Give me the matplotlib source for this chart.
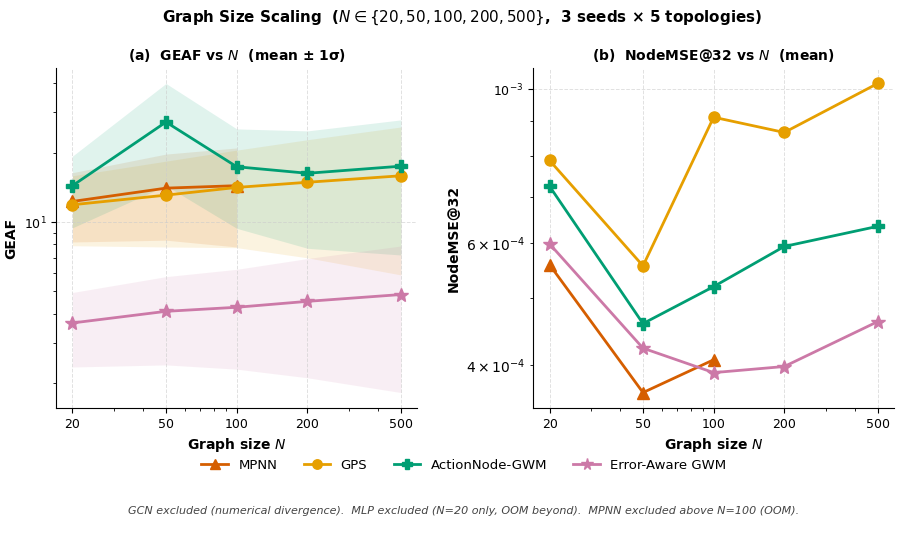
import matplotlib
matplotlib.use("Agg")
import numpy as np
import matplotlib.pyplot as plt

# Graph sizes
sizes = [20, 50, 100, 200, 500]
sizes_mpnn = [20, 50, 100]

# (a) GEAF mean / std
geaf_mpnn = [12.3, 14.05, 14.4]
geaf_mpnn_std = [4.1, 5.7, 6.6]
geaf_gps = [11.9, 13.1, 14.15, 14.9, 15.9]
geaf_gps_std = [4.0, 5.3, 6.4, 7.9, 10.0]
geaf_an = [14.4, 27.2, 17.4, 16.3, 17.5]
geaf_an_std = [4.95, 12.8, 8.0, 8.6, 10.3]
geaf_ea = [3.65, 4.10, 4.27, 4.53, 4.85]
geaf_ea_std = [1.3, 1.7, 1.97, 2.42, 3.03]

# (b) NodeMSE@32 mean
mse_mpnn = [5.58e-4, 3.65e-4, 4.07e-4]
mse_gps = [7.89e-4, 5.56e-4, 9.11e-4, 8.66e-4, 1.019e-3]
mse_an = [7.24e-4, 4.59e-4, 5.19e-4, 5.93e-4, 6.34e-4]
mse_ea = [5.98e-4, 4.23e-4, 3.90e-4, 3.98e-4, 4.62e-4]

c_mpnn = "#D55E00"
c_gps = "#E69F00"
c_an = "#009E73"
c_ea = "#CC79A7"

fig = plt.figure(figsize=(9.01, 5.54), dpi=100)
ax1 = fig.add_axes([0.0622, 0.2635, 0.4011, 0.6137])
ax2 = fig.add_axes([0.5918, 0.2635, 0.4005, 0.6137])

series_a = [
    ("MPNN", sizes_mpnn, geaf_mpnn, geaf_mpnn_std, c_mpnn, "^"),
    ("GPS", sizes, geaf_gps, geaf_gps_std, c_gps, "o"),
    ("ActionNode-GWM", sizes, geaf_an, geaf_an_std, c_an, "P"),
    ("Error-Aware GWM", sizes, geaf_ea, geaf_ea_std, c_ea, "*"),
]
for name, x, m, s, c, mk in series_a:
    m = np.array(m)
    s = np.array(s)
    ax1.fill_between(x, m - s, m + s, color=c, alpha=0.12, linewidth=0)
    ms = 10 if mk == "*" else 8
    ax1.plot(x, m, color=c, marker=mk, markersize=ms, linewidth=2, label=name)

series_b = [
    ("MPNN", sizes_mpnn, mse_mpnn, c_mpnn, "^"),
    ("GPS", sizes, mse_gps, c_gps, "o"),
    ("ActionNode-GWM", sizes, mse_an, c_an, "P"),
    ("Error-Aware GWM", sizes, mse_ea, c_ea, "*"),
]
for name, x, m, c, mk in series_b:
    ms = 10 if mk == "*" else 8
    ax2.plot(x, m, color=c, marker=mk, markersize=ms, linewidth=2, label=name)

for ax in (ax1, ax2):
    ax.set_xscale("log")
    ax.set_yscale("log")
    ax.set_xticks(sizes)
    ax.set_xticklabels([str(v) for v in sizes])
    ax.tick_params(axis="both", labelsize=9)
    ax.spines["top"].set_visible(False)
    ax.spines["right"].set_visible(False)
    ax.grid(True, which="major", linestyle="--", color="#cccccc", alpha=0.6, linewidth=0.7)
    ax.set_xlabel("Graph size $N$", fontsize=10, fontweight="bold")

ax1.set_ylabel("GEAF", fontsize=10, fontweight="bold")
ax2.set_ylabel("NodeMSE@32", fontsize=10, fontweight="bold")
ax1.set_title("(a)  GEAF vs $N$  (mean ± 1σ)", fontsize=10, fontweight="bold")
ax2.set_title("(b)  NodeMSE@32 vs $N$  (mean)", fontsize=10, fontweight="bold")

fig.suptitle("Graph Size Scaling  ($N \\in \\{20, 50, 100, 200, 500\\}$,  3 seeds × 5 topologies)",
             fontsize=10.9, fontweight="bold", x=0.513, y=0.985)

handles, labels = ax1.get_legend_handles_labels()
fig.legend(handles, labels, loc="center", bbox_to_anchor=(0.515, 0.16), ncol=4,
           frameon=False, fontsize=9.5, markerscale=0.85)

fig.text(0.514, 0.077,
         "GCN excluded (numerical divergence).  MLP excluded (N=20 only, OOM beyond).  "
         "MPNN excluded above N=100 (OOM).",
         ha="center", va="center", fontsize=8, style="italic", color="#444444")

fig.savefig("out.png", dpi=100)
